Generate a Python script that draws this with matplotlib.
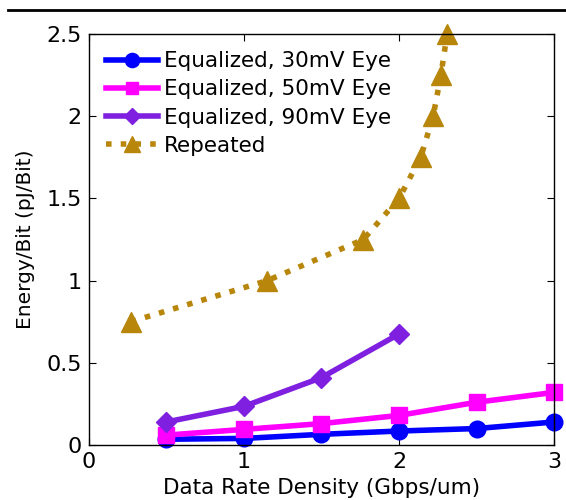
import matplotlib

matplotlib.use("Agg")
import matplotlib.pyplot as plt  # noqa: E402
from matplotlib.lines import Line2D  # noqa: E402

plt.rcParams["font.family"] = ["DejaVu Sans"]

# data
x_eq = [0.5, 1.0, 1.5, 2.0, 2.5, 3.0]
y_30mv = [0.035, 0.04, 0.065, 0.085, 0.10, 0.14]
y_50mv = [0.06, 0.095, 0.13, 0.18, 0.26, 0.32]
x_90mv = [0.5, 1.0, 1.5, 2.0]
y_90mv = [0.14, 0.235, 0.41, 0.675]
x_rep = [0.27, 1.15, 1.77, 2.0, 2.14, 2.22, 2.27, 2.31]
y_rep = [0.75, 1.0, 1.25, 1.5, 1.75, 2.0, 2.25, 2.5]

labels = ["Equalized, 30mV Eye", "Equalized, 50mV Eye",
          "Equalized, 90mV Eye", "Repeated"]

fig = plt.figure(figsize=(5.66, 5.0), dpi=100)
ax = fig.add_axes([0.157, 0.11, 0.822, 0.822])

lw = 4
ax.plot(x_eq, y_30mv, "-o", color="#0000ff", lw=lw, ms=12, label=labels[0],
        clip_on=False)
ax.plot(x_eq, y_50mv, "-s", color="#ff00ff", lw=lw, ms=11, label=labels[1],
        clip_on=False)
ax.plot(x_90mv, y_90mv, "-D", color="#7f1fdf", lw=lw, ms=10, label=labels[2])
ax.plot(x_rep, y_rep, ":^", color="#b8860b", lw=lw, ms=14, label=labels[3],
        clip_on=False)

ax.set_xlim(0, 3)
ax.set_ylim(0, 2.5)
ax.set_xticks([0, 1, 2, 3])
ax.set_xticklabels(["0", "1", "2", "3"])
ax.set_yticks([0, 0.5, 1, 1.5, 2, 2.5])
ax.set_yticklabels(["0", "0.5", "1", "1.5", "2", "2.5"])
ax.tick_params(direction="in", top=True, right=True, labelsize=16, length=5,
               pad=5)
for s in ax.spines.values():
    s.set_linewidth(1.0)

ax.set_xlabel("Data Rate Density (Gbps/um)", fontsize=15.5, labelpad=4)
ax.set_ylabel("Energy/Bit (pJ/Bit)", fontsize=14.5, labelpad=8)

ax.legend(loc="upper left", frameon=False, fontsize=15.5, handlelength=2.4,
          handletextpad=0.3, labelspacing=0.38, borderaxespad=0.4,
          markerscale=0.85)

# horizontal rule above the plot
fig.add_artist(Line2D([0.014, 1.0], [0.98, 0.98], color="black", lw=2,
                      transform=fig.transFigure))

fig.savefig("out.png", dpi=100)
